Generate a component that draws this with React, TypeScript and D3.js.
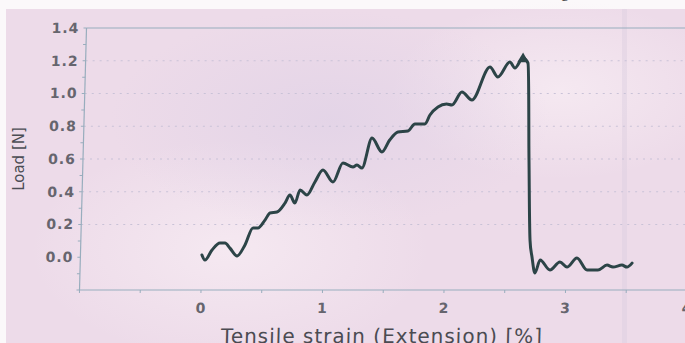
import React from 'react';
import * as d3 from 'd3';

// Tensile test record: strain [%] vs load [N]
const strain = [
  0.0, 0.026, 0.082, 0.146, 0.187, 0.229, 0.289, 0.352, 0.414, 0.455, 0.511, 0.551,
  0.608, 0.672, 0.711, 0.754, 0.793, 0.851, 0.914, 0.977, 1.063, 1.14, 1.224, 1.256,
  1.298, 1.374, 1.459, 1.52, 1.586, 1.668, 1.724, 1.807, 1.846, 1.91, 1.98, 2.025,
  2.104, 2.188, 2.329, 2.397, 2.492, 2.535, 2.599, 2.641, 2.671, 2.697, 2.717, 2.745,
  2.784, 2.868, 2.948, 3.007, 3.087, 3.173, 3.263, 3.336, 3.386, 3.459, 3.501, 3.542,
];
const load = [
  0.014, -0.017, 0.044, 0.087, 0.087, 0.056, 0.008, 0.075, 0.179, 0.179, 0.227, 0.27,
  0.276, 0.331, 0.38, 0.331, 0.411, 0.38, 0.46, 0.533, 0.46, 0.576, 0.551, 0.563,
  0.545, 0.728, 0.643, 0.716, 0.765, 0.771, 0.814, 0.814, 0.869, 0.918, 0.936, 0.93,
  1.009, 0.96, 1.162, 1.101, 1.192, 1.156, 1.217, 1.186, 0.594, 0.105, 0.002, -0.096,
  -0.017, -0.078, -0.029, -0.06, -0.005, -0.078, -0.078, -0.048, -0.06, -0.048, -0.06, -0.036,
];

const xTicks = [0, 1, 2, 3, 4];
const yTicks = [0.0, 0.2, 0.4, 0.6, 0.8, 1.0, 1.2, 1.4];
const xTitle = 'Tensile strain (Extension) [%]';
const yTitle = 'Load [N]';

const W = 685;
const H = 343;
const AXIS_COLOR = '#98adbd';
const TICK_TEXT = '#66656e';
const CURVE = '#2c4447';

export default function App() {
  const x = d3.scaleLinear().domain([-1, 4]).range([79.5, 687]);
  const y = d3.scaleLinear().domain([-0.2, 1.4]).range([290, 28]);

  const pts: [number, number][] = strain.map((s, i) => [s, load[i]]);
  const line = d3
    .line<[number, number]>()
    .x((d) => x(d[0]))
    .y((d) => y(d[1]))
    .curve(d3.curveMonotoneX);

  const peakIdx = d3.maxIndex(load);
  const tri = d3.symbol().type(d3.symbolTriangle).size(55)();

  const x0 = x(-1);
  const yBase = y(-0.2);
  const xMinor = d3.range(-1, 4.01, 0.5);
  const yMinor = d3.range(-0.2, 1.41, 0.1);

  // page sheet is photographed slightly askew
  const lean = `translate(0,${yBase}) skewX(-1.53) translate(0,${-yBase})`;

  return (
    <svg
      width={W}
      height={H}
      style={{ position: 'absolute', left: 0, top: 0, display: 'block' }}
      fontFamily="DejaVu Sans, Verdana, sans-serif"
    >
      <defs>
        <radialGradient id="patchA" cx="0.5" cy="0.5" r="0.5">
          <stop offset="0" stopColor="#f7ecf3" stopOpacity="0.8" />
          <stop offset="1" stopColor="#f7ecf3" stopOpacity="0" />
        </radialGradient>
        <radialGradient id="patchB" cx="0.5" cy="0.5" r="0.5">
          <stop offset="0" stopColor="#ddd0e6" stopOpacity="0.6" />
          <stop offset="1" stopColor="#ddd0e6" stopOpacity="0" />
        </radialGradient>
      </defs>

      {/* paper */}
      <rect x={0} y={0} width={W} height={H} fill="#fbf8fa" />
      <rect x={6} y={9} width={W - 6} height={H - 9} fill="#eddbe9" />
      <ellipse cx={230} cy={250} rx={200} ry={110} fill="url(#patchA)" />
      <ellipse cx={560} cy={90} rx={170} ry={90} fill="url(#patchA)" />
      <ellipse cx={330} cy={120} rx={220} ry={110} fill="url(#patchB)" />
      <rect x={622} y={9} width={5} height={H - 9} fill="#dccfe0" opacity={0.45} />

      {/* fragment of the caption line above */}
      <text x={561} y={-3} fontFamily="Liberation Serif, serif" fontSize={16} fill="#3a3a3a">
        g
      </text>

      <g transform={lean}>
        {/* gridlines */}
        {yTicks.slice(1, -1).map((t) => (
          <line
            key={`g${t}`}
            x1={x0}
            x2={W}
            y1={y(t)}
            y2={y(t)}
            stroke="#c9c2d7"
            strokeWidth={1}
            strokeDasharray="2 5"
          />
        ))}

        {/* frame top */}
        <line x1={x0} x2={W} y1={y(1.4)} y2={y(1.4)} stroke={AXIS_COLOR} strokeWidth={1} />

        {/* y axis */}
        <line x1={x0} x2={x0} y1={y(1.4)} y2={yBase} stroke={AXIS_COLOR} strokeWidth={1.2} />
        {yMinor.map((t) => (
          <line key={`ym${t}`} x1={x0 - 3} x2={x0} y1={y(t)} y2={y(t)} stroke={AXIS_COLOR} strokeWidth={1} />
        ))}
        {yTicks.map((t) => (
          <text
            key={`yl${t}`}
            x={x0 - 7}
            y={y(t) + 5}
            textAnchor="end"
            fontSize={14}
            fontWeight="bold"
            letterSpacing={1}
            fill={TICK_TEXT}
          >
            {t.toFixed(1)}
          </text>
        ))}

        {/* x axis */}
        <line x1={x0} x2={W} y1={yBase} y2={yBase} stroke={AXIS_COLOR} strokeWidth={1.2} />
        {xMinor.map((t) => (
          <line key={`xm${t}`} x1={x(t)} x2={x(t)} y1={yBase} y2={yBase + 3} stroke={AXIS_COLOR} strokeWidth={1} />
        ))}
        {xTicks.map((t) => (
          <text
            key={`xl${t}`}
            x={x(t)}
            y={yBase + 23}
            textAnchor="middle"
            fontSize={14}
            fontWeight="bold"
            fill={TICK_TEXT}
          >
            {t}
          </text>
        ))}

        <text
          x={x(1.5)}
          y={yBase + 53}
          textAnchor="middle"
          fontSize={20}
          letterSpacing={1}
          fill="#4b4b52"
        >
          {xTitle}
        </text>

        {/* curve */}
        <path d={line(pts) ?? ''} fill="none" stroke={CURVE} strokeWidth={3} strokeLinejoin="round" strokeLinecap="round" />
        <path
          d={tri ?? ''}
          transform={`translate(${x(strain[peakIdx])},${y(load[peakIdx]) + 1})`}
          fill={CURVE}
        />
      </g>

      <text
        transform={`translate(24,${y(0.6)}) rotate(-90)`}
        textAnchor="middle"
        fontSize={15}
        fill="#4b4d54"
      >
        {yTitle}
      </text>
    </svg>
  );
}
